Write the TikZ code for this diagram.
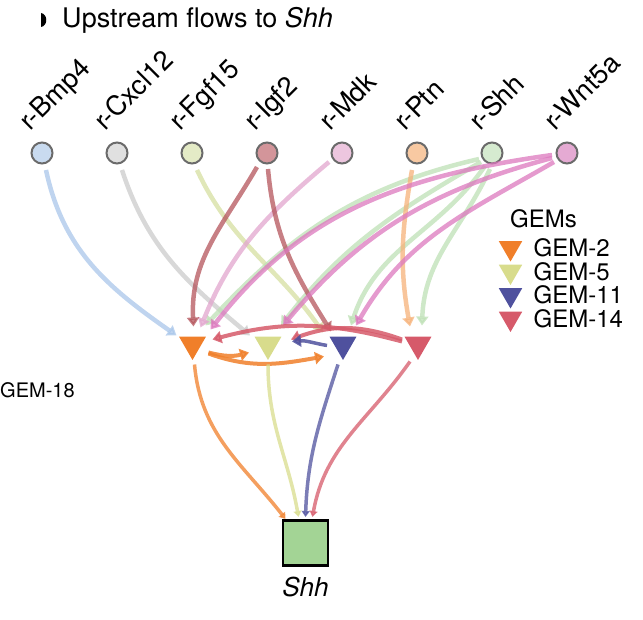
\documentclass[tikz,border=0pt]{standalone}
\usepackage{fontspec}
\setmainfont{TeX Gyre Heros}
\usetikzlibrary{arrows.meta,positioning,shapes.geometric,calc}

\definecolor{bmpfill}{HTML}{C9DBF0}
\definecolor{bmpline}{HTML}{A9C6EA}
\definecolor{cxclfill}{HTML}{E0E0E0}
\definecolor{cxclline}{HTML}{CBCBCB}
\definecolor{fgffill}{HTML}{E4EBC6}
\definecolor{fgfline}{HTML}{D5DFA0}
\definecolor{igffill}{HTML}{D3959A}
\definecolor{igfline}{HTML}{B4545B}
\definecolor{mdkfill}{HTML}{EDC6DF}
\definecolor{mdkline}{HTML}{E2A6CE}
\definecolor{ptnfill}{HTML}{F8C9A2}
\definecolor{ptnline}{HTML}{F6B27A}
\definecolor{shhfill}{HTML}{D6EBD0}
\definecolor{shhline}{HTML}{BEE0B5}
\definecolor{wntfill}{HTML}{E5AAD3}
\definecolor{wntline}{HTML}{DC78BE}
\definecolor{gemtwo}{HTML}{F07F2A}
\definecolor{gemfive}{HTML}{D8DC8C}
\definecolor{gemeleven}{HTML}{4F519E}
\definecolor{gemfourteen}{HTML}{D65A6A}
\definecolor{genefill}{HTML}{A3D495}

\begin{document}
\begin{tikzpicture}[x=1pt,y=1pt,
    rec/.style={circle, draw=black!58, line width=2pt, minimum size=21pt, inner sep=0pt},
    reclabel/.style={rotate=45, anchor=base west, inner sep=0pt, font=\fontsize{27}{29}\selectfont},
    gem/.style={regular polygon, regular polygon sides=3, shape border rotate=180, minimum size=31pt, inner sep=0pt},
    legtri/.style={gem, minimum size=27pt},
    legtext/.style={inner sep=0pt, font=\fontsize{24}{26}\selectfont},
    flow/.style={line width=4.5pt, opacity=.75, -{Triangle[length=9pt,width=12pt]}},
    gemflow/.style={flow, line width=4pt, opacity=.85},
    outflow/.style={flow, line width=3.5pt, -{Triangle[length=6pt,width=8pt]}}]
  %\draw[help lines] (0,0) grid[step=50] (643,620);
  \useasboundingbox (0,0) rectangle (643,620);

  % title
  \fill (41,607) .. controls (48,606) and (48,594) .. (41,593) -- cycle;
  \node[anchor=base west, inner sep=0pt, font=\fontsize{27}{30}\selectfont] (title) at (62,592) {Upstream flows to \textit{Shh}};

  % receptors
  \node[rec, fill=bmpfill]  (bmp) at (42,467) {};
  \node[rec, fill=cxclfill] (cxcl) at (117,467) {};
  \node[rec, fill=fgffill]  (fgf) at (192,467) {};
  \node[rec, fill=igffill]  (igf) at (267,467) {};
  \node[rec, fill=mdkfill]  (mdk) at (342,467) {};
  \node[rec, fill=ptnfill]  (ptn) at (417,467) {};
  \node[rec, fill=shhfill]  (shhr) at (492,467) {};
  \node[rec, fill=wntfill]  (wnt) at (567,467) {};

  \node[reclabel] at ($(bmp)+(-12,21)$) {r-Bmp4};
  \node[reclabel] at ($(cxcl)+(-12,21)$) {r-Cxcl12};
  \node[reclabel] at ($(fgf)+(-12,21)$) {r-Fgf15};
  \node[reclabel] at ($(igf)+(-12,21)$) {r-Igf2};
  \node[reclabel] at ($(mdk)+(-12,21)$) {r-Mdk};
  \node[reclabel] at ($(ptn)+(-12,21)$) {r-Ptn};
  \node[reclabel] at ($(shhr)+(-12,21)$) {r-Shh};
  \node[reclabel] at ($(wnt)+(-12,21)$) {r-Wnt5a};

  % GEMs
  \node[gem, fill=gemtwo]      (g2) at (192.5,275.5) {};
  \node[gem, fill=gemfive]     (g5) at (268,275.5) {};
  \node[gem, fill=gemeleven]   (g11) at (343,275.5) {};
  \node[gem, fill=gemfourteen] (g14) at (418,275.5) {};

  % target gene
  \node[draw, line width=2.5pt, fill=genefill, minimum size=45pt, inner sep=0pt] (gene) at (305.5,77) {};
  \node[below=10pt of gene, inner sep=0pt, font=\fontsize{26}{28}\selectfont\itshape] (genelabel) {Shh};

  \node[anchor=base west, inner sep=0pt, font=\fontsize{20}{22}\selectfont] (gemeighteen) at (0,222) {GEM-18};

  % legend
  \node[anchor=base west, inner sep=0pt, font=\fontsize{24}{26}\selectfont] (legtitle) at (510,392) {GEMs};
  \node[legtri, fill=gemtwo]      (k2) at (510.5,372) {};
  \node[legtri, fill=gemfive]     (k5) at (510.5,348.5) {};
  \node[legtri, fill=gemeleven]   (k11) at (510.5,325) {};
  \node[legtri, fill=gemfourteen] (k14) at (510.5,301.5) {};
  \node[legtext, right=15pt of k2]  {GEM-2};
  \node[legtext, right=15pt of k5]  {GEM-5};
  \node[legtext, right=15pt of k11] {GEM-11};
  \node[legtext, right=15pt of k14] {GEM-14};

  % receptor -> GEM flows
  \draw[flow, bmpline]  ($(bmp)+(4,-17)$)  to[out=-78,in=145] ($(g2)+(-16,9)$);
  \draw[flow, cxclline] ($(cxcl)+(5,-17)$) to[out=-72,in=140] ($(g5)+(-18,9)$);
  \draw[flow, fgfline]  ($(fgf)+(5,-17)$)  to[out=-65,in=125] ($(g11)+(-20,12)$);
  \draw[flow, shhline]  ($(shhr)+(-13,-6)$) to[out=193,in=47] ($(g2)+(13,19)$);
  \draw[flow, shhline]  ($(shhr)+(-11,-9)$) to[out=-150,in=52] ($(g5)+(13,19)$);
  \draw[flow, shhline]  ($(shhr)+(-7,-13)$) to[out=-125,in=72] ($(g11)+(8,19)$);
  \draw[flow, shhline]  ($(shhr)+(-2,-16)$) to[out=-115,in=88] ($(g14)+(4,19)$);
  \draw[flow, mdkline]  ($(mdk)+(-13,-9)$) to[out=-140,in=68] ($(g2)+(8,17)$);
  \draw[flow, ptnline]  ($(ptn)+(-5,-17)$) to[out=-100,in=100] ($(g14)+(-8,18)$);
  \draw[flow, igfline]  ($(igf)+(-10,-14)$) to[out=-120,in=93] ($(g2)+(1,18)$);
  \draw[flow, igfline]  ($(igf)+(1,-16)$)  to[out=-85,in=122] ($(g11)+(-12,13)$);
  \draw[flow, wntline]  ($(wnt)+(-15,-2)$) to[out=188,in=52] ($(g2)+(18,15)$);
  \draw[flow, wntline]  ($(wnt)+(-15,-5)$) to[out=195,in=50] ($(g5)+(15,19)$);
  \draw[flow, wntline]  ($(wnt)+(-13,-9)$) to[out=-150,in=60] ($(g11)+(13,19)$);

  % GEM -> GEM flows
  \draw[gemflow, gemfourteen] ($(g14)+(-16,3)$) to[out=165,in=15] ($(g2)+(20,5)$);
  \draw[gemflow, gemfourteen] ($(g14)+(-16,5)$) to[out=160,in=20] ($(g5)+(23,5)$);
  \draw[gemflow, gemeleven, line width=3.5pt] ($(g11)+(-16,-1)$) to[out=170,in=5] ($(g5)+(24,3)$);
  \draw[gemflow, gemtwo] ($(g2)+(16,-8)$) to[out=-15,in=195] ($(g5)+(-19,-8)$);
  \draw[gemflow, gemtwo] ($(g2)+(16,-9)$) to[out=-20,in=190] ($(g11)+(-19,-12)$);

  % GEM -> Shh
  \draw[outflow, gemtwo]      ($(g2)+(2,-20)$)  to[out=-85,in=128]  ($(gene)+(-20,24)$);
  \draw[outflow, gemfive]     ($(g5)+(0,-20)$)  to[out=-90,in=100]  ($(gene)+(-7,26)$);
  \draw[outflow, gemeleven]   ($(g11)+(-5,-20)$) to[out=-108,in=88] ($(gene)+(0,26)$);
  \draw[outflow, gemfourteen] ($(g14)+(-8,-17)$) to[out=-125,in=80] ($(gene)+(7,26)$);
\end{tikzpicture}
\end{document}
